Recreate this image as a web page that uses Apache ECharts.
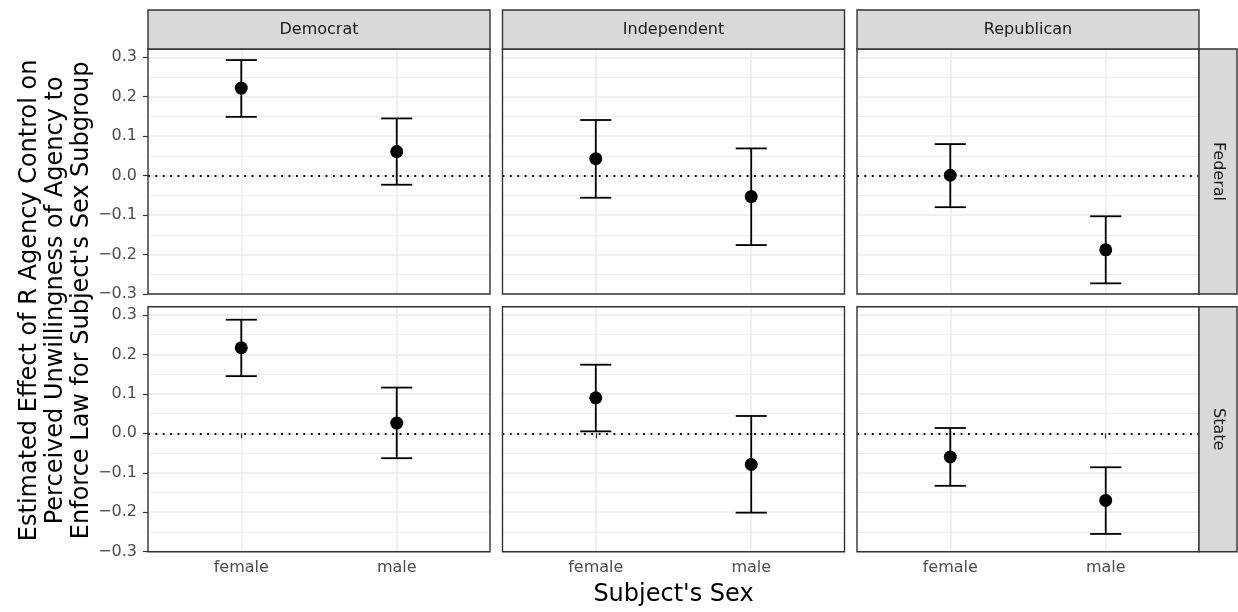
<!DOCTYPE html>
<html>
<head>
<meta charset="utf-8">
<script src="https://cdn.jsdelivr.net/npm/echarts@6/dist/echarts.min.js"></script>
<style>
  html, body { margin: 0; padding: 0; background: #ffffff; }
  #chart { width: 1238px; height: 612px; }
</style>
</head>
<body>
<div id="chart"></div>
<script>
// Facets: columns are parties, rows are levels of government
const parties = ['Democrat', 'Independent', 'Republican'];
const levels = ['Federal', 'State'];
const sexes = ['female', 'male'];

// Point estimates and interval bounds, one [female, male] pair per party
const federalEstimate = [[0.222, 0.061], [0.043, -0.053], [0.001, -0.188]];
const federalLower    = [[0.149, -0.023], [-0.056, -0.176], [-0.080, -0.273]];
const federalUpper    = [[0.293, 0.145], [0.141, 0.069], [0.080, -0.103]];

const stateEstimate = [[0.217, 0.026], [0.090, -0.079], [-0.060, -0.170]];
const stateLower    = [[0.145, -0.063], [0.005, -0.201], [-0.133, -0.255]];
const stateUpper    = [[0.288, 0.116], [0.174, 0.044], [0.0135, -0.086]];

// Axis ticks
const yMajorTicks = [-0.3, -0.2, -0.1, 0, 0.1, 0.2, 0.3];
const yMinorTicks = [-0.25, -0.15, -0.05, 0.05, 0.15, 0.25];
const xTicks = [1, 2];

const estimates = [federalEstimate, stateEstimate];
const lowers = [federalLower, stateLower];
const uppers = [federalUpper, stateUpper];

// Panel geometry
const FONT = 'DejaVu Sans';
const plotLeft = 148, plotRight = 1199, colGap = 12.5;
const plotTop = 49, plotBottom = 551.7, rowGap = 12.7;
const panelW = (plotRight - plotLeft - 2 * colGap) / 3;
const panelH = (plotBottom - plotTop - rowGap) / 2;
const stripH = 39, stripW = 38;
const yMin = -0.3, yMax = 0.321;
const xMin = 0.4, xMax = 2.6;
const capHalf = 0.1;

const fmtY = v => (v < 0 ? '\u2212' : '') + Math.abs(v).toFixed(1);

const grids = [], xAxes = [], yAxes = [], series = [], graphics = [];

levels.forEach((level, r) => {
  parties.forEach((party, c) => {
    const gi = r * 3 + c;
    const left = plotLeft + c * (panelW + colGap);
    const top = plotTop + r * (panelH + rowGap);
    grids.push({ left: left, top: top, width: panelW, height: panelH, containLabel: false });

    xAxes.push({
      type: 'value', gridIndex: gi, min: xMin, max: xMax,
      axisLine: { show: false },
      axisTick: { show: r === 1, customValues: xTicks, length: 5, lineStyle: { color: '#333333', width: 1.2 } },
      axisLabel: {
        show: r === 1, customValues: xTicks, margin: 8,
        formatter: v => sexes[Math.round(v) - 1],
        color: '#4d4d4d', fontSize: 16, fontFamily: FONT
      },
      splitLine: { show: true, lineStyle: { color: '#ebebeb', width: 1.6 } }
    });

    // major grid + tick labels
    yAxes.push({
      type: 'value', gridIndex: gi, min: yMin, max: yMax, position: 'left',
      axisLine: { show: false },
      axisTick: { show: c === 0, customValues: yMajorTicks, length: 5, lineStyle: { color: '#333333', width: 1.2 } },
      axisLabel: {
        show: c === 0, customValues: yMajorTicks, margin: 11,
        formatter: fmtY, color: '#4d4d4d', fontSize: 16, fontFamily: FONT
      },
      splitLine: { show: true, lineStyle: { color: '#ebebeb', width: 1.6 } }
    });
    // minor grid
    yAxes.push({
      type: 'value', gridIndex: gi, min: yMin, max: yMax, position: 'left',
      axisLine: { show: false },
      axisTick: { show: false, customValues: yMinorTicks },
      axisLabel: { show: false, customValues: yMinorTicks },
      splitLine: { show: true, lineStyle: { color: '#ededed', width: 1.0 } }
    });

    const barData = sexes.map((s, k) => [k + 1, lowers[r][c][k], uppers[r][c][k]]);
    const ptData = sexes.map((s, k) => [k + 1, estimates[r][c][k]]);

    series.push({
      type: 'custom', xAxisIndex: gi, yAxisIndex: gi * 2, z: 2,
      data: barData,
      encode: { x: 0, y: [1, 2] },
      renderItem: (params, api) => {
        const x = api.value(0), lo = api.value(1), hi = api.value(2);
        const pLo = api.coord([x, lo]);
        const pHi = api.coord([x, hi]);
        const cl = api.coord([x - capHalf, lo])[0];
        const cr = api.coord([x + capHalf, lo])[0];
        const style = { stroke: '#000000', lineWidth: 1.8, fill: null };
        return {
          type: 'group',
          children: [
            { type: 'line', shape: { x1: pLo[0], y1: pLo[1], x2: pHi[0], y2: pHi[1] }, style: style },
            { type: 'line', shape: { x1: cl, y1: pHi[1], x2: cr, y2: pHi[1] }, style: style },
            { type: 'line', shape: { x1: cl, y1: pLo[1], x2: cr, y2: pLo[1] }, style: style }
          ]
        };
      },
      markLine: {
        silent: true, symbol: 'none', label: { show: false },
        lineStyle: { color: '#000000', width: 1.8, type: [1.8, 5.6], opacity: 1 },
        data: [{ yAxis: 0 }]
      }
    });

    series.push({
      type: 'scatter', xAxisIndex: gi, yAxisIndex: gi * 2, z: 3,
      data: ptData, symbol: 'circle', symbolSize: 13,
      itemStyle: { color: '#000000', opacity: 1 }
    });

    // panel border
    graphics.push({
      type: 'rect', z: 100,
      shape: { x: left, y: top, width: panelW, height: panelH },
      style: { fill: null, stroke: '#333333', lineWidth: 1.4 }
    });

    // party strips on top row
    if (r === 0) {
      graphics.push({
        type: 'rect', z: 100,
        shape: { x: left, y: top - stripH, width: panelW, height: stripH },
        style: { fill: '#d9d9d9', stroke: '#333333', lineWidth: 1.4 }
      });
      graphics.push({
        type: 'text', z: 101, x: left + panelW / 2, y: top - stripH / 2,
        style: { text: party, align: 'center', verticalAlign: 'middle', fill: '#1a1a1a', fontSize: 16, fontFamily: FONT }
      });
    }
    // level strips on right column
    if (c === 2) {
      graphics.push({
        type: 'rect', z: 100,
        shape: { x: left + panelW, y: top, width: stripW, height: panelH },
        style: { fill: '#d9d9d9', stroke: '#333333', lineWidth: 1.4 }
      });
      graphics.push({
        type: 'text', z: 101, x: left + panelW + stripW / 2, y: top + panelH / 2, rotation: -Math.PI / 2,
        style: { text: level, align: 'center', verticalAlign: 'middle', fill: '#1a1a1a', fontSize: 16, fontFamily: FONT }
      });
    }
  });
});

// axis titles
graphics.push({
  type: 'text', z: 101, x: (plotLeft + plotRight) / 2, y: 595,
  style: { text: "Subject's Sex", align: 'center', verticalAlign: 'middle', fill: '#000000', fontSize: 24, fontFamily: FONT }
});
graphics.push({
  type: 'text', z: 101, x: 56, y: (plotTop + plotBottom) / 2, rotation: Math.PI / 2,
  style: {
    text: 'Estimated Effect of R Agency Control on\nPerceived Unwillingness of Agency to\nEnforce Law for Subject\'s Sex Subgroup',
    align: 'center', verticalAlign: 'middle', fill: '#000000', fontSize: 24, lineHeight: 26, fontFamily: FONT
  }
});

const chart = echarts.init(document.getElementById('chart'), null, { renderer: 'canvas' });
chart.setOption({
  animation: false,
  backgroundColor: '#ffffff',
  grid: grids,
  xAxis: xAxes,
  yAxis: yAxes,
  series: series,
  graphic: graphics
});
</script>
</body>
</html>
